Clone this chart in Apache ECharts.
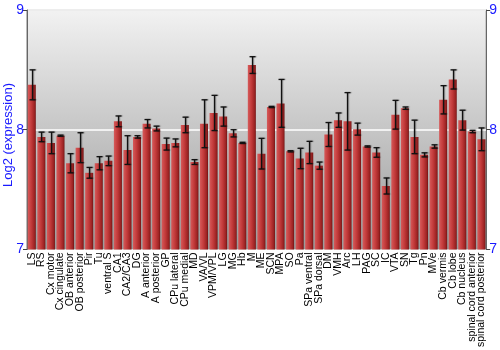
<!DOCTYPE html>
<html><head><meta charset="utf-8">
<script src="https://cdn.jsdelivr.net/npm/echarts@6/dist/echarts.min.js"></script>
<style>html,body{margin:0;padding:0;background:#fff}#c{width:500px;height:350px}</style>
</head><body><div id="c"></div>
<script>
var categories = ["LS","RS","Cx motor","Cx cingulate","OB anterior","OB posterior","Pir","Tu","ventral S","CA1","CA2/CA3","DG","A anterior","A posterior","GP","CPu lateral","CPu medial","MD","VA/VL","VPM/VPL","LG","MG","Hb","M","ME","SCN","MPA","SO","Pa","SPa ventral","SPa dorsal","DM","VMH","Arc","LH","PAG","SC","IC","VTA","SN","Tg","Pn","MVe","Cb vermis","Cb lobe","Cb nucleus","spinal cord anterior","spinal cord posterior"];
var values = [8.375,7.94,7.89,7.95,7.72,7.85,7.64,7.72,7.74,8.07,7.83,7.94,8.05,8.01,7.88,7.89,8.04,7.73,8.05,8.14,8.11,7.97,7.89,8.54,7.80,8.19,8.22,7.82,7.76,7.81,7.70,7.96,8.08,8.07,8.005,7.86,7.81,7.53,8.125,8.18,7.94,7.79,7.86,8.25,8.42,8.08,7.985,7.92];
var errors = [0.125,0.04,0.09,0.005,0.08,0.125,0.045,0.055,0.04,0.045,0.12,0.01,0.035,0.02,0.05,0.033,0.065,0.02,0.2,0.147,0.08,0.03,0.005,0.07,0.128,0.005,0.2,0.005,0.085,0.093,0.03,0.1,0.06,0.24,0.05,0.005,0.04,0.067,0.12,0.01,0.14,0.017,0.014,0.118,0.08,0.083,0.01,0.095];
var yTicks = [7, 8, 9];

var errData = values.map(function(v, i){ return [i, v - errors[i], v + errors[i]]; });
var chart = echarts.init(document.getElementById('c'), null, {renderer:'canvas'});
var blue = '#1a1aff';
function yAx(pos, split){
  return {
    type:'value', position:pos, min:yTicks[0], max:yTicks[yTicks.length-1], interval:1,
    axisLine:{show:true, lineStyle:{color:'#666', width:1}},
    axisTick:{show:true, length:4, lineStyle:{color:'#444'}},
    axisLabel:{color:blue, fontSize:14, fontFamily:'Liberation Sans, Arial', margin:3},
    splitLine:{show:split, lineStyle:{color:'#ffffff', width:1.5}}
  };
}
chart.setOption({
  animation:false,
  grid:{left:27, right:13, top:10, bottom:100, show:true, borderColor:'#777', borderWidth:1,
    backgroundColor:new echarts.graphic.LinearGradient(0,0,0,1,[{offset:0,color:'#f2f2f2'},{offset:1,color:'#9a9a9a'}])},
  xAxis:{type:'category', data:categories,
    axisLine:{show:false}, axisTick:{show:false},
    axisLabel:{interval:0, rotate:90, fontSize:10.5, color:'#000', fontFamily:'Liberation Sans, Arial', margin:3}},
  yAxis:[yAx('left', true), yAx('right', false)],
  graphic:[{type:'text', x:8, y:135, rotation:Math.PI/2,
    style:{text:'Log2 (expression)', fill:blue, font:'13px Liberation Sans, Arial', align:'center', verticalAlign:'middle'}}],
  series:[
    {type:'bar', data:values, barCategoryGap:'16%',
      itemStyle:{color:new echarts.graphic.LinearGradient(0,0,1,0,[{offset:0,color:'#d65a5a'},{offset:0.45,color:'#c23a3a'},{offset:0.85,color:'#9a2222'},{offset:1,color:'#6e1212'}])}},
    {type:'custom', data:errData, z:10,
      renderItem:function(params, api){
        var x = api.value(0);
        var lo = api.coord([x, api.value(1)]);
        var hi = api.coord([x, api.value(2)]);
        var c = Math.round(lo[0]) + 0.5;
        var w = 3;
        var st = {stroke:'#111', lineWidth:1.3, shadowColor:'rgba(0,0,0,0.35)', shadowBlur:1, shadowOffsetX:1};
        return {type:'group', children:[
          {type:'line', shape:{x1:c, y1:hi[1], x2:c, y2:lo[1]}, style:st},
          {type:'line', shape:{x1:c-w, y1:hi[1], x2:c+w, y2:hi[1]}, style:st},
          {type:'line', shape:{x1:c-w, y1:lo[1], x2:c+w, y2:lo[1]}, style:st}
        ]};
      }}
  ]
});
</script></body></html>
